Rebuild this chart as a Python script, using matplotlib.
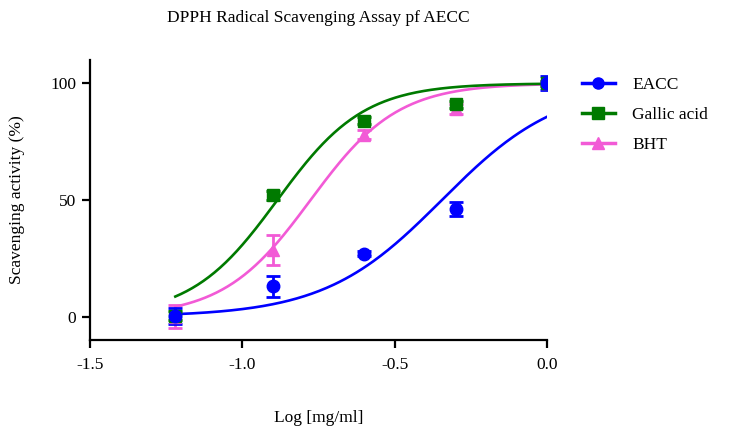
import numpy as np
import matplotlib
matplotlib.use('Agg')
import matplotlib.pyplot as plt

# log concentration (mg/ml)
log_conc = [-1.22, -0.9, -0.6, -0.3, 0.0]

# mean scavenging activity (%) and error bars
eacc = [0.3, 13.0, 27.0, 46.0, 100.0]
eacc_err = [3.5, 4.5, 1.0, 3.0, 3.0]
gallic = [0.5, 52.0, 84.0, 91.0, 100.0]
gallic_err = [2.0, 2.0, 1.5, 1.5, 1.0]
bht = [0.0, 28.5, 78.0, 89.0, 100.0]
bht_err = [5.0, 6.5, 2.0, 2.0, 1.0]

# fitted sigmoid parameters (logEC50, hill slope)
eacc_fit = (-0.345, 2.25)
gallic_fit = (-0.885, 3.06)
bht_fit = (-0.776, 3.04)

series = [
    ('BHT', bht, bht_err, bht_fit, '#F25AD6', '^'),
    ('Gallic acid', gallic, gallic_err, gallic_fit, '#007A00', 's'),
    ('EACC', eacc, eacc_err, eacc_fit, '#0000FF', 'o'),
]

plt.rcParams['font.family'] = ['Liberation Serif', 'DejaVu Serif']
fs = 12.5

fig = plt.figure(figsize=(7.42, 4.32), dpi=100)
ax = fig.add_axes([90/742, 1-340/432, 457/742, 280/432])

xs = np.linspace(log_conc[0], log_conc[-1], 200)
handles = {}
for name, y, err, (ec50, hill), color, marker in series:
    curve = 100.0 / (1 + 10 ** ((ec50 - xs) * hill))
    ax.plot(xs, curve, color=color, lw=1.9, zorder=2)
    ax.errorbar(log_conc, y, yerr=err, fmt=marker, color=color, ms=9,
                capsize=5, elinewidth=2, capthick=2, zorder=3)
    h, = ax.plot([], [], color=color, lw=2.5, marker=marker, ms=8)
    handles[name] = h

ax.set_xlim(-1.5, 0.0)
ax.set_ylim(-10, 110)
ax.set_xticks([-1.5, -1.0, -0.5, 0.0])
ax.set_xticklabels(['-1.5', '-1.0', '-0.5', '0.0'])
ax.set_yticks([0, 50, 100])

for side in ['top', 'right']:
    ax.spines[side].set_visible(False)
for side in ['left', 'bottom']:
    ax.spines[side].set_linewidth(1.6)
ax.tick_params(width=1.6, length=5.5, labelsize=fs, pad=4.5)
ax.tick_params(axis='x', pad=7)

ax.set_xlabel('Log [mg/ml]', fontsize=fs)
ax.xaxis.set_label_coords(0.5, -0.25)
ax.set_ylabel('Scavenging activity (%)', fontsize=fs)
ax.yaxis.set_label_coords(-0.142, 0.5)

fig.text(318/742, 1-18/432, 'DPPH Radical Scavenging Assay pf AECC',
         fontsize=fs, ha='center', va='center')

ax.legend([handles['EACC'], handles['Gallic acid'], handles['BHT']],
          ['EACC', 'Gallic acid', 'BHT'], loc='upper left',
          bbox_to_anchor=(566/742, 1-61/432), bbox_transform=fig.transFigure,
          frameon=False, fontsize=fs, handlelength=1.9, labelspacing=0.8,
          handletextpad=1.0)

plt.savefig('out.png', dpi=100)
